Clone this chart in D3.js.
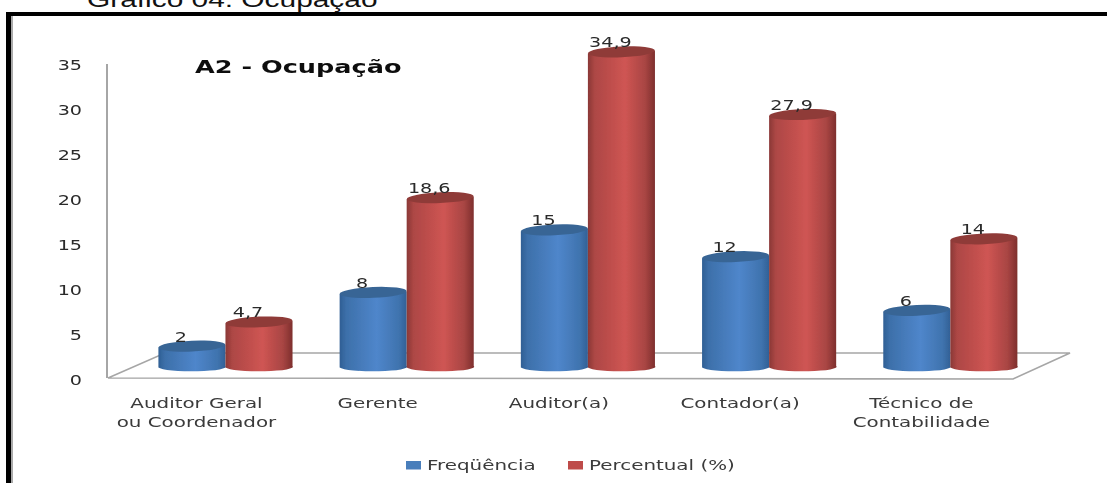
<!DOCTYPE html>
<html><head><meta charset="utf-8">
<script src="https://cdn.jsdelivr.net/npm/d3@7"></script>
<style>html,body{margin:0;padding:0;background:#fff;overflow:hidden}svg{display:block}</style>
</head><body><svg id="c" width="1107" height="483"></svg>
<script>
const categories = [["Auditor Geral","ou Coordenador"],["Gerente"],["Auditor(a)"],["Contador(a)"],["Técnico de","Contabilidade"]];
const frequencia = [2,8,15,12,6];
const percentual = [4.7,18.6,34.9,27.9,14];
const freqLabels = ["2","8","15","12","6"];
const percLabels = ["4,7","18,6","34,9","27,9","14"];
const yTicks = [0,5,10,15,20,25,30,35];
const seriesNames = ["Freqüência","Percentual (%)"];

const svg = d3.select("#c");
const font = "'DejaVu Sans'";
const stretch = 1.42;
const defs = svg.append("defs");
function grad(id, stops){
  const g = defs.append("linearGradient").attr("id",id).attr("x1",0).attr("x2",1).attr("y1",0).attr("y2",0);
  stops.forEach(([o,c])=>g.append("stop").attr("offset",o).attr("stop-color",c));
}
grad("gBlue",[[0,"#2f5f94"],[.1,"#3d70aa"],[.55,"#4f86cb"],[.88,"#3f73ae"],[1,"#315f94"]]);
grad("gRed",[[0,"#8a3836"],[.1,"#ad4745"],[.55,"#cf5553"],[.85,"#a84543"],[1,"#7c2e2c"]]);
defs.append("filter").attr("id","soft").attr("x","-5%").attr("y","-5%").attr("width","110%").attr("height","110%")
  .append("feGaussianBlur").attr("stdDeviation",0.55);

function label(g, px, py, txt, size, fill, anchor, weight, sx){
  return g.append("text").attr("transform",`translate(${px},${py}) scale(${sx||stretch},1)`)
    .attr("text-anchor",anchor||"start").attr("font-family",font).attr("font-size",size)
    .attr("font-weight",weight||"normal").attr("fill",fill).text(txt);
}

// caption and frame
svg.append("text").attr("transform","translate(87,7) scale(1.39,1)").attr("font-family","'Liberation Sans'").attr("font-size",21.5).attr("fill","#111").text("Gráfico 04: Ocupação");
const frame = svg.append("g");
frame.append("rect").attr("x",6).attr("y",12).attr("width",1101).attr("height",4).attr("fill","#000");
frame.append("rect").attr("x",6).attr("y",12).attr("width",5).attr("height",471).attr("fill","#000");
frame.append("rect").attr("x",11).attr("y",16).attr("width",2).attr("height",467).attr("fill","#aaa");

// scales
const y = d3.scaleLinear().domain([0,35]).range([364,51]);
const yAxisScale = d3.scaleLinear().domain([0,35]).range([378,64]);
const yLabelScale = d3.scaleLinear().domain([0,35]).range([380,65]);
const x = d3.scaleBand().domain(d3.range(categories.length)).range([111.3,1064.5]).padding(0.26);
const xs = d3.scaleBand().domain([0,1]).range([0,x.bandwidth()]);
const rx = xs.bandwidth()/2;

const plot = svg.append("g").attr("filter","url(#soft)");

// floor + axis wall
const fp = [[108,378],[1013,379],[1070,353],[165,353]];
plot.append("path").attr("d",d3.line()(fp)+"Z").attr("fill","none").attr("stroke","#a6a6a6").attr("stroke-width",1.6);
plot.append("line").attr("x1",107).attr("x2",107).attr("y1",yAxisScale(35)).attr("y2",yAxisScale(0)).attr("stroke","#a6a6a6").attr("stroke-width",2);

// y tick labels
const ticks = plot.append("g");
yTicks.forEach(d=>label(ticks,82,yLabelScale(d)+5,d,13.5,"#2a2a2a","end"));

// cylinders
function cyl(g, xPos, v, fill, top){
  const w = 2*rx, t=y(v), b=y(0)+3.5;
  g.append("path").attr("d",`M${xPos},${t+1.5}L${xPos},${b}A${rx},4.5 0 0 0 ${xPos+w},${b-1.5}L${xPos+w},${t-1}Z`).attr("fill",`url(#${fill})`);
  g.append("ellipse").attr("rx",rx).attr("ry",5.4)
    .attr("transform",`translate(${xPos+rx},${t}) rotate(-2.5)`).attr("fill",top);
}
const bars = plot.append("g");
categories.forEach((c,i)=>{
  const g = bars.append("g");
  cyl(g, x(i)+xs(0), frequencia[i], "gBlue", "#386595");
  cyl(g, x(i)+xs(1), percentual[i], "gRed", "#8f3b39");
  label(g, x(i)+xs(0)+rx-11, y(frequencia[i])-4.5, freqLabels[i], 13.5, "#2a2a2a", "middle");
  label(g, x(i)+xs(1)+rx-11, y(percentual[i])-4.5, percLabels[i], 13.5, "#2a2a2a", "middle");
});

// category labels
const cat = plot.append("g");
categories.forEach((lines,i)=>{
  lines.forEach((l,j)=>label(cat, x(i)+x.bandwidth()/2-29, 408+j*19, l, 14, "#3a3a3a", "middle"));
});

// title
label(plot,195,73,"A2 - Ocupação",18,"#111","start","bold");

// legend
const colors = ["#4a7ebb","#be4b48"], lx=[406,568], tx=[427,589];
seriesNames.forEach((n,i)=>{
  plot.append("rect").attr("x",lx[i]).attr("y",461).attr("width",15).attr("height",8.5).attr("fill",colors[i]);
  label(plot,tx[i],470,n,14,"#3a3a3a");
});
</script></body></html>
